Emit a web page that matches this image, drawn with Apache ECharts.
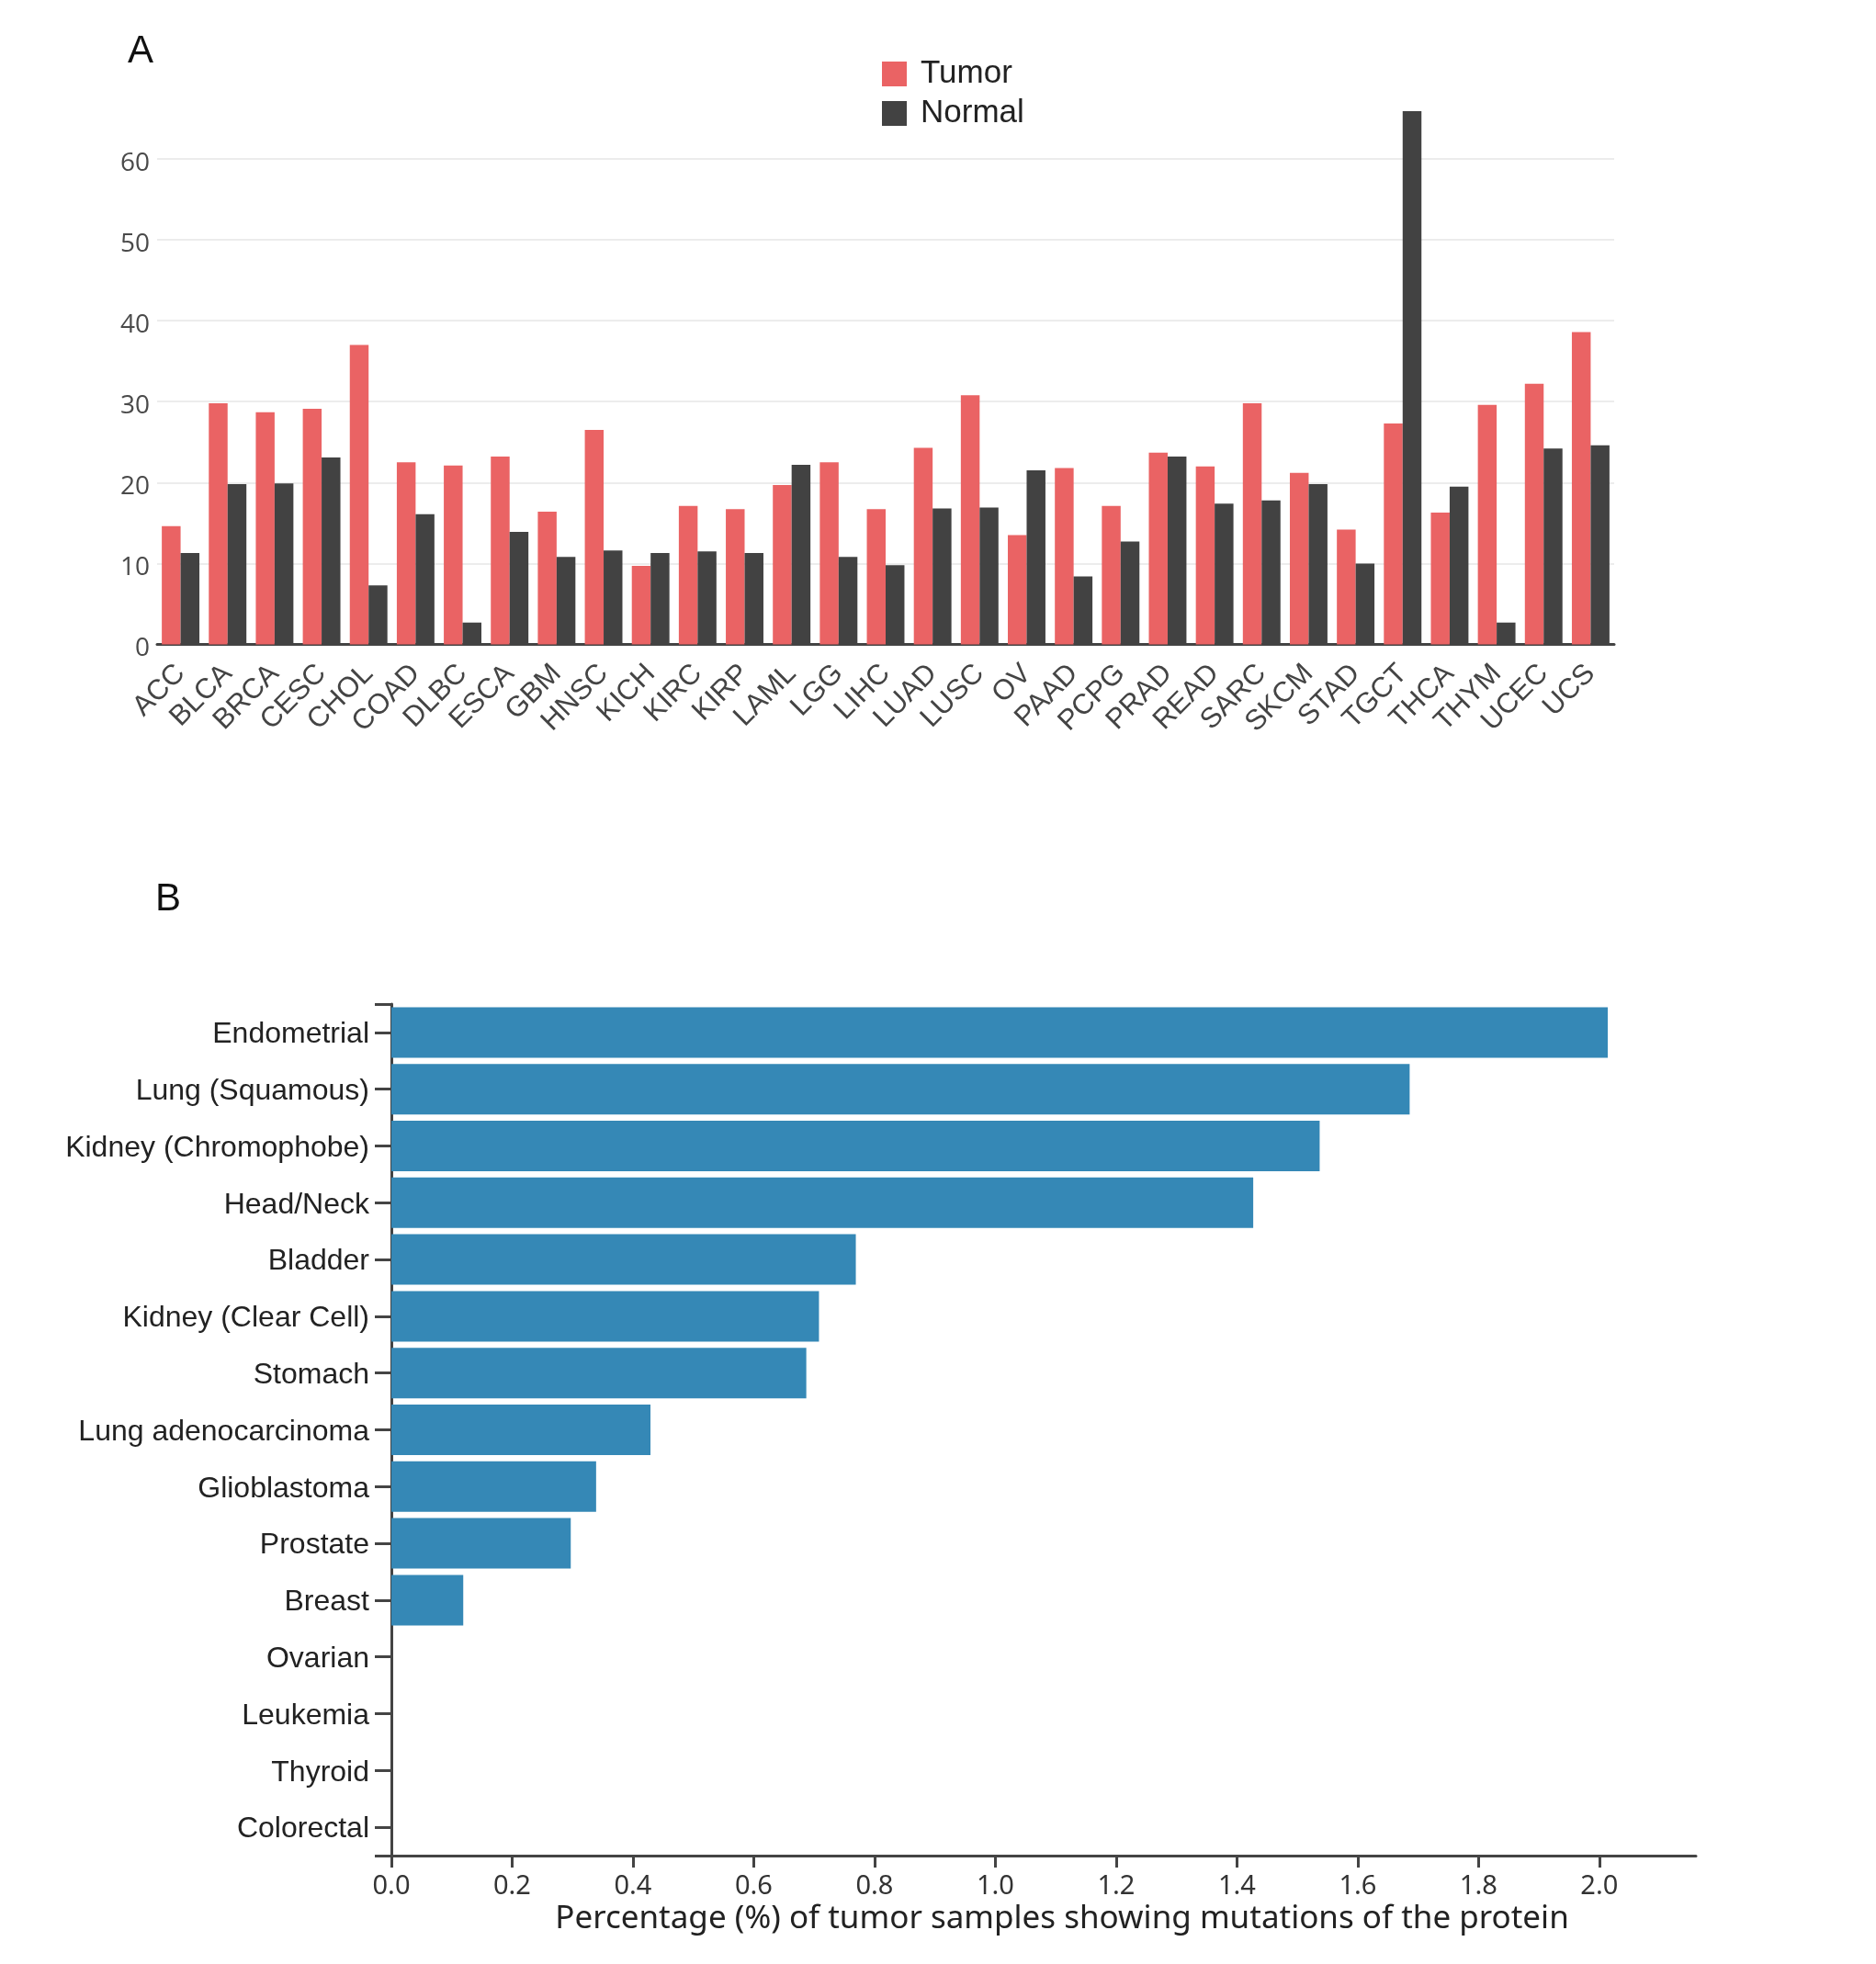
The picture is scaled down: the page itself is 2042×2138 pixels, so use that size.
<!DOCTYPE html>
<html>
<head>
<meta charset="utf-8">
<script src="https://cdn.jsdelivr.net/npm/echarts@6/dist/echarts.min.js"></script>
<style>
html,body{margin:0;padding:0;background:#fff;}
#chart{width:2042px;height:2138px;}
</style>
</head>
<body>
<div id="chart"></div>
<script>
// Panel A data
const cancerTypes = ['ACC','BLCA','BRCA','CESC','CHOL','COAD','DLBC','ESCA','GBM','HNSC','KICH','KIRC','KIRP','LAML','LGG','LIHC','LUAD','LUSC','OV','PAAD','PCPG','PRAD','READ','SARC','SKCM','STAD','TGCT','THCA','THYM','UCEC','UCS'];
const tumorValues = [14.6,29.8,28.7,29.1,37.0,22.5,22.1,23.2,16.4,26.5,9.7,17.1,16.7,19.7,22.5,16.7,24.3,30.8,13.5,21.8,17.1,23.7,22.0,29.8,21.2,14.2,27.3,16.3,29.6,32.2,38.6];
const normalValues = [11.3,19.8,19.9,23.1,7.3,16.1,2.7,13.9,10.8,11.6,11.3,11.5,11.3,22.2,10.8,9.8,16.8,16.9,21.5,8.4,12.7,23.2,17.4,17.8,19.8,10.0,65.9,19.5,2.7,24.2,24.6];
const yTicksA = [0,10,20,30,40,50,60];

// Panel B data
const tissues = ['Endometrial','Lung (Squamous)','Kidney (Chromophobe)','Head/Neck','Bladder','Kidney (Clear Cell)','Stomach','Lung adenocarcinoma','Glioblastoma','Prostate','Breast','Ovarian','Leukemia','Thyroid','Colorectal'];
const mutationPct = [2.014,1.686,1.537,1.427,0.769,0.708,0.687,0.429,0.339,0.297,0.119,0,0,0,0];
const xTicksB = [0,0.2,0.4,0.6,0.8,1.0,1.2,1.4,1.6,1.8,2.0];

const chart = echarts.init(document.getElementById('chart'), null, {renderer:'canvas'});
const axisColor = '#444';
const option = {
  backgroundColor: '#fff',
  animation: false,
  title: [
    {text:'A', left:134, top:30, textStyle:{fontSize:42, fontWeight:'normal', color:'#111', fontFamily:'Liberation Sans'}},
    {text:'B', left:164, top:953, textStyle:{fontSize:42, fontWeight:'normal', color:'#111', fontFamily:'Liberation Sans'}}
  ],
  legend: {
    data:['Tumor','Normal'],
    orient:'vertical', left:955, top:58,
    itemWidth:27, itemHeight:27, itemGap:8,
    icon:'rect',
    textStyle:{fontSize:35, color:'#222', fontFamily:'Liberation Sans', padding:[0,0,0,10]}
  },
  grid: [
    {left:171, top:120, width:1586, height:581.5},
    {left:426, top:1093, width:1420, height:927}
  ],
  xAxis: [
    {
      gridIndex:0, type:'category', data:cancerTypes,
      axisLine:{show:true, lineStyle:{color:axisColor, width:3}},
      axisTick:{show:false},
      axisLabel:{rotate:45, fontSize:31, color:'#444', fontFamily:'Liberation Sans', margin:27, interval:0}
    },
    {
      gridIndex:1, type:'value', min:0, max:2.16, interval:0.2,
      axisLine:{show:true, lineStyle:{color:axisColor, width:3}},
      axisTick:{show:true, length:13, lineStyle:{color:axisColor, width:3}, customValues:xTicksB},
      axisLabel:{fontSize:29, color:'#333', fontFamily:'Noto Sans', margin:19, customValues:xTicksB,
        formatter:(v)=>v.toFixed(1)},
      splitLine:{show:false},
      name:'Percentage (%) of tumor samples showing mutations of the protein',
      nameLocation:'middle', nameGap:52,
      nameTextStyle:{fontSize:35, color:'#222', fontFamily:'Noto Sans', padding:[0,0,0,40]}
    }
  ],
  yAxis: [
    {
      gridIndex:0, type:'value', min:0, max:66, interval:10,
      axisLine:{show:false}, axisTick:{show:false},
      axisLabel:{fontSize:28, color:'#4a4a4a', fontFamily:'Open Sans', margin:8, customValues:yTicksA,
        formatter:(v)=>'{t|' + v + '}',
        rich:{t:{fontSize:28, color:'#4a4a4a', fontFamily:'Open Sans', padding:[10,0,0,0]}}},
      splitLine:{show:true, showMaxLine:false, lineStyle:{color:'#ececec', width:2}}
    },
    {
      gridIndex:1, type:'category', data:tissues, inverse:true, position:'left',
      axisLine:{show:true, lineStyle:{color:axisColor, width:3}},
      axisTick:{show:true, alignWithLabel:true, length:18, lineStyle:{color:axisColor, width:3}},
      axisLabel:{fontSize:32, color:'#222', fontFamily:'Liberation Sans', margin:24, interval:0,
        formatter:(v)=>'{t|' + v + '}',
        rich:{t:{fontSize:32, color:'#222', fontFamily:'Liberation Sans', padding:[5,0,0,0]}}}
    },
    {
      gridIndex:1, type:'category', data:['',''], boundaryGap:false, position:'left',
      axisLine:{show:false},
      axisTick:{show:true, length:18, lineStyle:{color:axisColor, width:3}},
      axisLabel:{show:false}
    }
  ],
  series: [
    {name:'Tumor', type:'bar', xAxisIndex:0, yAxisIndex:0, data:tumorValues,
     itemStyle:{color:'#EA6364'}, barGap:'0%', barCategoryGap:'20%'},
    {name:'Normal', type:'bar', xAxisIndex:0, yAxisIndex:0, data:normalValues,
     itemStyle:{color:'#424242'}, barGap:'0%', barCategoryGap:'20%'},
    {name:'Mutation', type:'bar', xAxisIndex:1, yAxisIndex:1, data:mutationPct,
     itemStyle:{color:'#3588B6'}, barCategoryGap:'11%'}
  ]
};
chart.setOption(option);
</script>
</body>
</html>
